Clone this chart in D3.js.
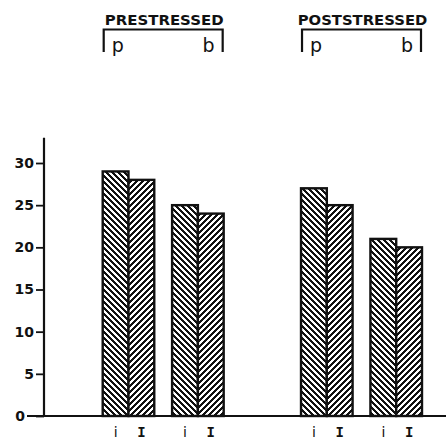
<!DOCTYPE html>
<html>
<head>
<meta charset="utf-8">
<script src="https://cdn.jsdelivr.net/npm/d3@7"></script>
<style>
  html, body { margin: 0; padding: 0; background: #fff; }
  svg { display: block; }
</style>
</head>
<body>
<svg id="chart" width="446" height="439"></svg>
<script>
// ---- data ----
const conditions = ["PRESTRESSED", "POSTSTRESSED"];
const groups = ["p", "b"];
const series = ["i", "I"];
const prestressedValues = [[29, 28], [25, 24]];   // [p:[i,I], b:[i,I]]
const poststressedValues = [[27, 25], [21, 20]];
const yTicks = [0, 5, 10, 15, 20, 25, 30];

const valuesByCondition = { PRESTRESSED: prestressedValues, POSTSTRESSED: poststressedValues };
const records = [];
conditions.forEach(c => groups.forEach((g, gi) => series.forEach((s, si) => {
  records.push({ condition: c, group: g, series: s, value: valuesByCondition[c][gi][si] });
})));

const svg = d3.select("#chart");
const W = 446, H = 439;
const ink = "#111";

const x0 = d3.scaleBand().domain(conditions).range([102.7, 422]).paddingInner(0.39).paddingOuter(0);
const x1 = d3.scaleBand().domain(groups).range([0, x0.bandwidth()]).paddingInner(0.257).paddingOuter(0);
const x2 = d3.scaleBand().domain(series).range([0, x1.bandwidth()]).padding(0);
const y = d3.scaleLinear().domain([0, 33]).range([416, 137.7]);

// patterns
const P = 6;
const defs = svg.append("defs");
const p1 = defs.append("pattern").attr("id", "hatch-i").attr("patternUnits", "userSpaceOnUse")
  .attr("width", P).attr("height", P);
p1.append("rect").attr("width", P).attr("height", P).attr("fill", "#fff");
p1.append("path").attr("d", `M0,0 L${P},${P} M-2,${P-2} L2,${P+2} M${P-2},-2 L${P+2},2`)
  .attr("stroke", ink).attr("stroke-width", 2.3).attr("shape-rendering", "crispEdges");
const p2 = defs.append("pattern").attr("id", "hatch-I").attr("patternUnits", "userSpaceOnUse")
  .attr("width", P).attr("height", P);
p2.append("rect").attr("width", P).attr("height", P).attr("fill", "#fff");
p2.append("path").attr("d", `M0,${P} L${P},0 M-2,2 L2,-2 M${P-2},${P+2} L${P+2},${P-2}`)
  .attr("stroke", ink).attr("stroke-width", 2.3).attr("shape-rendering", "crispEdges");

// bars
const barX = d => x0(d.condition) + x1(d.group) + x2(d.series);
svg.append("g").selectAll("rect").data(records).join("rect")
  .attr("x", barX)
  .attr("y", d => y(d.value))
  .attr("width", x2.bandwidth())
  .attr("height", d => y(0) - y(d.value))
  .attr("fill", d => d.series === "i" ? "url(#hatch-i)" : "url(#hatch-I)")
  .attr("stroke", ink).attr("stroke-width", 2.4);

// baseline
svg.append("line").attr("x1", 27).attr("x2", W).attr("y1", y(0)).attr("y2", y(0))
  .attr("stroke", ink).attr("stroke-width", 2.2);

// y axis
const yAxis = svg.append("g").attr("transform", "translate(44,0)")
  .call(d3.axisLeft(y).tickValues(yTicks).tickSize(8).tickPadding(2).tickFormat(d3.format("d")));
yAxis.select(".domain").attr("d", `M0,${y(0)}V${y.range()[1]}`).attr("stroke", ink).attr("stroke-width", 2.2);
yAxis.selectAll(".tick line").attr("stroke", ink).attr("stroke-width", 1.8);
yAxis.selectAll(".tick text")
  .attr("font-family", "'DejaVu Sans', sans-serif")
  .attr("font-weight", "bold").attr("font-size", 14).attr("fill", ink);
yAxis.selectAll(".tick").filter(d => d === 0).select("text").attr("x", -19);

// x labels (i, I)
svg.append("g").selectAll("text").data(records).join("text")
  .attr("x", d => barX(d) + x2.bandwidth() / 2)
  .attr("y", 437)
  .attr("text-anchor", "middle")
  .attr("font-family", d => d.series === "I" ? "'DejaVu Sans Mono', monospace" : "'DejaVu Sans', sans-serif")
  .attr("font-weight", d => d.series === "I" ? "bold" : "normal")
  .attr("font-size", 14).attr("fill", ink)
  .text(d => d.series);

// headers with brackets
const hdr = svg.append("g").selectAll("g").data(conditions).join("g")
  .attr("transform", d => `translate(${x0(d)},0)`);
hdr.append("text")
  .attr("x", x0.bandwidth() / 2 + 1)
  .attr("y", 25)
  .attr("text-anchor", "middle")
  .attr("font-family", "'DejaVu Sans', sans-serif")
  .attr("font-weight", "bold").attr("font-size", 13.5).attr("fill", ink)
  .attr("textLength", d => d.length * 10.8)
  .attr("lengthAdjust", "spacingAndGlyphs")
  .text(d => d);
hdr.append("path")
  .attr("d", `M1,52V29.5H${x0.bandwidth() - 1}V52`)
  .attr("fill", "none").attr("stroke", ink).attr("stroke-width", 2.2);
hdr.selectAll("text.grp").data(groups).join("text").attr("class", "grp")
  .attr("x", (g, i) => i === 0 ? x1(g) + 9 : x1(g) + x1.bandwidth() - 9)
  .attr("y", 52)
  .attr("text-anchor", (g, i) => i === 0 ? "start" : "end")
  .attr("font-family", "'DejaVu Sans', sans-serif")
  .attr("font-size", 19).attr("fill", ink)
  .text(g => g);
</script>
</body>
</html>
